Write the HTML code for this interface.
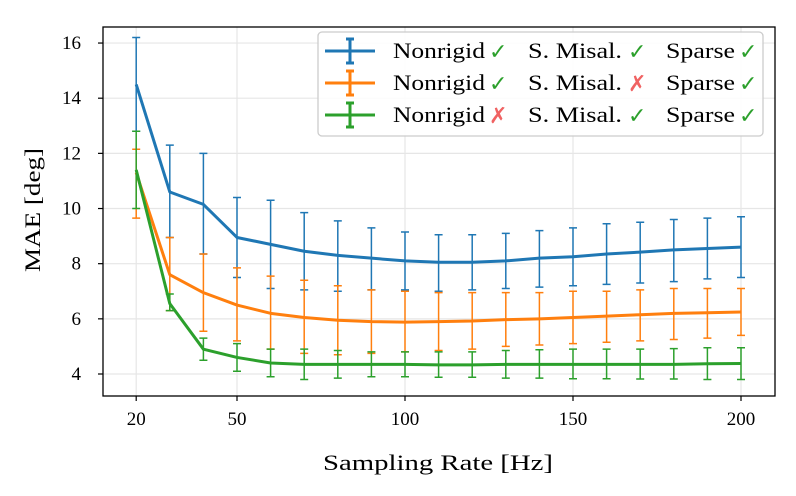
<!DOCTYPE html>
<html><head><meta charset="utf-8"><style>
html,body{margin:0;padding:0;background:#fff}
svg{display:block;font-family:"Liberation Serif",serif}
</style></head><body>
<svg id="chart" width="796" height="496">
<rect x="0" y="0" width="796" height="496" fill="#fff"/>
<g id="grid"></g><g id="series"></g>
<rect x="103" y="27" width="672" height="369" fill="none" stroke="#000" stroke-width="1.3"/>
<g id="ticks"></g>
<text x="323" y="470" font-size="22" textLength="230" lengthAdjust="spacingAndGlyphs">Sampling Rate [Hz]</text>
<text transform="translate(40,272) rotate(-90)" font-size="22" textLength="124" lengthAdjust="spacingAndGlyphs">MAE [deg]</text>
<g>
<rect x="318" y="32" width="445" height="104" rx="4" fill="#fff" fill-opacity="0.85" stroke="#ccc" stroke-width="1.3"/>
<g id="legend-items"></g>
</g>
</svg>
<script>
const rates=[20,30,40,50,60,70,80,90,100,110,120,130,140,150,160,170,180,190,200];
const blueMean=[14.5,10.6,10.15,8.95,8.7,8.45,8.3,8.2,8.1,8.05,8.05,8.1,8.2,8.25,8.35,8.42,8.5,8.55,8.6];
const blueLo=[12.8,8.95,8.35,7.5,7.1,7.05,7.0,7.05,7.05,7.0,7.05,7.1,7.15,7.2,7.25,7.3,7.35,7.45,7.5];
const blueHi=[16.2,12.3,12.0,10.4,10.3,9.85,9.55,9.3,9.15,9.05,9.05,9.1,9.2,9.3,9.45,9.5,9.6,9.65,9.7];
const orangeMean=[11.3,7.6,6.95,6.5,6.2,6.05,5.95,5.9,5.88,5.9,5.92,5.97,6.0,6.05,6.1,6.15,6.2,6.22,6.25];
const orangeLo=[9.65,6.3,5.55,5.2,4.9,4.75,4.7,4.75,4.8,4.85,4.9,5.0,5.05,5.1,5.15,5.2,5.25,5.3,5.4];
const orangeHi=[12.15,8.95,8.35,7.85,7.55,7.4,7.2,7.05,7.0,6.95,6.95,6.95,6.95,7.0,7.0,7.05,7.1,7.1,7.1];
const greenMean=[11.4,6.55,4.9,4.6,4.4,4.35,4.35,4.35,4.35,4.33,4.33,4.35,4.35,4.35,4.35,4.35,4.35,4.37,4.38];
const greenLo=[10.0,6.3,4.5,4.1,3.9,3.8,3.85,3.9,3.9,3.88,3.88,3.85,3.85,3.83,3.83,3.82,3.82,3.8,3.8];
const greenHi=[12.8,6.9,5.3,5.1,4.9,4.9,4.85,4.8,4.8,4.8,4.8,4.85,4.88,4.9,4.9,4.9,4.92,4.95,4.95];
const xTicks=[20,50,100,150,200];
const yTicks=[4,6,8,10,12,14,16];
const NS='http://www.w3.org/2000/svg';
const X=v=>405+(v-100)*3.36;
const Y=v=>374-(v-4)*27.58;
function mk(tag,attrs,parent){const e=document.createElementNS(NS,tag);for(const k in attrs)e.setAttribute(k,attrs[k]);parent.appendChild(e);return e;}
const grid=document.getElementById('grid'),ticks=document.getElementById('ticks'),ser=document.getElementById('series');
xTicks.forEach(t=>{
 const g=mk('line',{x1:X(t),x2:X(t),y1:27,y2:396,stroke:'#e6e6e6','stroke-width':1.2},grid);
 
 
 mk('line',{x1:X(t),x2:X(t),y1:396,y2:401,stroke:'#000','stroke-width':1.2},ticks);
 const l=mk('text',{x:X(t),y:425,'font-size':19,'text-anchor':'middle'},ticks);l.textContent=t;
 
 
});
yTicks.forEach(t=>{
 const g=mk('line',{x1:103,x2:775,y1:Y(t),y2:Y(t),stroke:'#e6e6e6','stroke-width':1.2},grid);
 
 
 mk('line',{x1:98,x2:103,y1:Y(t),y2:Y(t),stroke:'#000','stroke-width':1.2},ticks);
 const l=mk('text',{x:81,y:Y(t)+6,'font-size':19,'text-anchor':'end'},ticks);l.textContent=t;
 
 
});
const series=[['blue','#1f77b4',blueMean,blueLo,blueHi],['orange','#ff7f0e',orangeMean,orangeLo,orangeHi],['green','#2ca02c',greenMean,greenLo,greenHi]];
series.forEach(([n,c,m,lo,hi])=>{
 const g=mk('g',{},ser);
 
 
 rates.forEach((r,i)=>{
  const x=X(r);
  const e=mk('path',{d:`M${x},${Y(lo[i])}V${Y(hi[i])}M${x-4},${Y(lo[i])}H${x+4}M${x-4},${Y(hi[i])}H${x+4}`,stroke:c,'stroke-width':1.5,fill:'none'},g);
  
  
 });
 const p=mk('polyline',{points:rates.map((r,i)=>X(r)+','+Y(m[i])).join(' '),fill:'none',stroke:c,'stroke-width':3,'stroke-linejoin':'round'},g);
 
 
});
const leg=document.getElementById('legend-items');
const ck='#2ca02c',cr='#f06262';
const rows=[['#1f77b4',['✓',ck],['✓',ck],['✓',ck]],['#ff7f0e',['✓',ck],['✗',cr],['✓',ck]],['#2ca02c',['✗',cr],['✓',ck],['✓',ck]]];
const words=[['Nonrigid',393,92,489],['S. Misal.',528,94,628],['Sparse',666,69,739]];
rows.forEach((r,i)=>{
 const y=51+i*32;
 const g=mk('g',{},leg);
 
 
 mk('path',{d:`M325,${y}H375M350,${y-12}V${y+12}M346,${y-12}H354M346,${y+12}H354`,stroke:r[0],'stroke-width':3,fill:'none'},g);
 words.forEach((w,j)=>{
  const t=mk('text',{x:w[1],y:y+7,'font-size':22,textLength:w[2],lengthAdjust:'spacingAndGlyphs'},g);
  t.textContent=w[0];
  const m=mk('text',{x:w[3],y:y+8,'font-size':22,fill:r[j+1][1],'font-family':'DejaVu Sans'},g);
  m.textContent=r[j+1][0];
 });
});
</script>
</body></html>
